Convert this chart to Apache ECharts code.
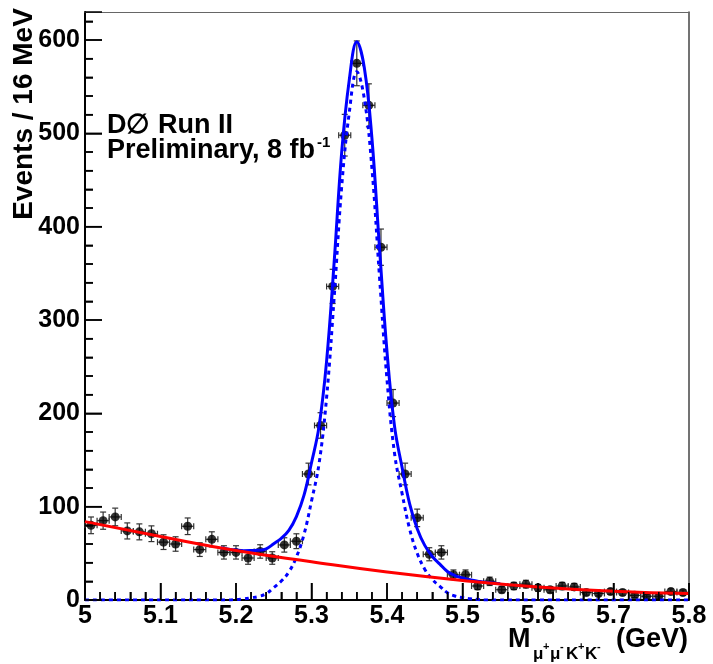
<!DOCTYPE html>
<html>
<head>
<meta charset="utf-8">
<script src="https://cdn.jsdelivr.net/npm/echarts@6/dist/echarts.min.js"></script>
<style>html,body{margin:0;padding:0;background:#fff}#c{width:713px;height:664px}</style>
</head>
<body>
<div id="c"></div>
<script>
// ---- data ----
const binCenters = [5.008,5.024,5.040,5.056,5.072,5.088,5.104,5.120,5.136,5.152,
  5.168,5.184,5.200,5.216,5.232,5.248,5.264,5.280,5.296,5.312,
  5.328,5.344,5.360,5.376,5.392,5.408,5.424,5.440,5.456,5.472,
  5.488,5.504,5.520,5.536,5.552,5.568,5.584,5.600,5.616,5.632,
  5.648,5.664,5.680,5.696,5.712,5.728,5.744,5.760,5.776,5.792];
const counts = [80,85,89,74,73,71,62,60,79,54,
  65,51,51,45,52,45,59,63,135,187,
  336,498,575,530,378,211,135,88,49,51,
  27,27,15,20,11,15,17,13,11,15,
  14,8,7,9,8,5,4,4,9,8];
const binHalfWidth = 0.008;

// background fit (red)
const bkgX = [5.0,5.1,5.2,5.3,5.4,5.5,5.6,5.7,5.8];
const bkgY = [84,68,53,41,30,21,14,9.5,7];

// signal fit (blue dotted)
const sigX = [5.0,5.1,5.18,5.19,5.20,5.21,5.22,5.23,5.24,5.25,5.26,5.27,5.28,5.29,5.30,5.31,5.32,5.33,5.34,5.35,5.36,
  5.37,5.38,5.39,5.40,5.41,5.42,5.43,5.44,5.45,5.46,5.47,5.48,5.49,5.50,5.51,5.52,5.53,5.54,5.6,5.7,5.8];
const sigY = [0,0,0,0,0.5,1.1,2.4,3.8,6.7,13.3,20.3,30,46,70,106,146,217,324,443,522,566,
  537,463,347,236,157,114,76,50,33,22,14.7,7.7,4.3,2.6,1.3,0.6,0,0,0,0,0];

// total fit (blue solid)
const totX = [5.18,5.19,5.20,5.21,5.22,5.23,5.24,5.25,5.26,5.27,5.28,5.29,5.30,5.31,5.32,5.33,5.34,5.35,5.36,
  5.37,5.38,5.39,5.40,5.41,5.42,5.43,5.44,5.45,5.46,5.47,5.48,5.49,5.50,5.51,5.52,5.53,5.54,5.55];
const totY = [56,54.5,53.5,52.9,53,53.2,54.9,60.3,66.1,74.6,89.4,112,147,186,256,362,480,557,598,
  570,495,378,266,186,142,103,76.4,58.5,46.6,38.4,30.5,26.2,23.6,21.6,20.2,18.9,18.2,17.5];

// axis ticks and labels
const xTickLabels = ['5','5.1','5.2','5.3','5.4','5.5','5.6','5.7','5.8'];
const xMajorTicks = [5.0,5.1,5.2,5.3,5.4,5.5,5.6,5.7,5.8];
const xMinorTicks = [5.02,5.04,5.06,5.08,5.12,5.14,5.16,5.18,5.22,5.24,5.26,5.28,5.32,5.34,5.36,5.38,
  5.42,5.44,5.46,5.48,5.52,5.54,5.56,5.58,5.62,5.64,5.66,5.68,5.72,5.74,5.76,5.78];
const yTickLabels = ['0','100','200','300','400','500','600'];
const yMajorTicks = [0,100,200,300,400,500,600];
const yMinorTicks = [20,40,60,80,120,140,160,180,220,240,260,280,320,340,360,380,
  420,440,460,480,520,540,560,580,620];

// ---- chart ----
const zip = (a,b) => a.map((v,i)=>[v,b[i]]);
const pts = binCenters.map((x,i)=>[x,counts[i],Math.sqrt(counts[i])]);
const FONT = 'Liberation Sans, Arial, Helvetica, sans-serif';
const XMIN = 5, YMIN = 0;
// tick items: [value, kind]  kind 0 x-major, 1 x-minor, 2 y-major, 3 y-minor
const tickItems = [].concat(
  xMajorTicks.map(v=>[v,0]), xMinorTicks.map(v=>[v,1]),
  yMajorTicks.map(v=>[v,2]), yMinorTicks.map(v=>[v,3]));

const chart = echarts.init(document.getElementById('c'), null, {renderer:'canvas'});
chart.setOption({
  animation:false,
  backgroundColor:'#ffffff',
  grid:{left:85,right:24,top:12,bottom:64,show:false},
  xAxis:[
    {type:'value',min:5,max:5.8,interval:0.1,
      axisLine:{show:true,onZero:false,lineStyle:{color:'#000',width:2}},
      axisTick:{show:true,inside:true,length:17,lineStyle:{color:'#000',width:1.5}},
      minorTick:{show:true,splitNumber:5,length:8,lineStyle:{color:'#000',width:1.5}},
      splitLine:{show:false},
      axisLabel:{margin:4,color:'#000',fontFamily:FONT,fontWeight:'bold',fontSize:25,
        formatter:(v)=>{const i=Math.round((v-5)/0.1);return xTickLabels[i]!==undefined?xTickLabels[i]:'';}}},
    {type:'value',position:'top',min:5,max:5.8,interval:0.1,
      axisLine:{show:true,onZero:false,lineStyle:{color:'#666',width:1}},
      axisTick:{show:false},axisLabel:{show:false},splitLine:{show:false}}
  ],
  yAxis:[
    {type:'value',min:0,max:630,interval:100,
      axisLine:{show:true,onZero:false,lineStyle:{color:'#000',width:2}},
      axisTick:{show:true,inside:true,length:17,lineStyle:{color:'#000',width:1.5}},
      minorTick:{show:true,splitNumber:5,length:8,lineStyle:{color:'#000',width:1.5}},
      splitLine:{show:false},
      axisLabel:{margin:5,color:'#000',fontFamily:FONT,fontWeight:'bold',fontSize:25,showMaxLabel:false,
        formatter:(v)=>{const i=Math.round(v/100);return (v%100===0 && yTickLabels[i]!==undefined)?yTickLabels[i]:'';}}},
    {type:'value',position:'right',min:0,max:630,interval:100,
      axisLine:{show:true,onZero:false,lineStyle:{color:'#444',width:1.5}},
      axisTick:{show:false},axisLabel:{show:false},splitLine:{show:false}}
  ],
  series:[
    {type:'custom',name:'ticks',data:tickItems,z:9,
      renderItem:(params,api)=>{
        const v=api.value(0), k=api.value(1);
        if(k<2){
          const p=api.coord([v,YMIN]); const len=(k===0)?17:8;
          return {type:'rect',shape:{x:p[0]-0.75,y:p[1]-len,width:1.5,height:len},style:{fill:'#000'}};
        }
        const p=api.coord([XMIN,v]); const len=(k===2)?17:8;
        return {type:'rect',shape:{x:p[0],y:p[1]-0.75,width:len,height:1.5},style:{fill:'#000'}};
      }},
    {type:'custom',name:'err',data:pts,z:3,
      renderItem:(params,api)=>{
        const x=api.value(0), y=api.value(1), e=api.value(2);
        const c=api.coord([x,y]);
        const l=api.coord([x-binHalfWidth,y]), r=api.coord([x+binHalfWidth,y]);
        const t=api.coord([x,y+e]), b=api.coord([x,Math.max(0,y-e)]);
        const st={stroke:'#333',lineWidth:1.2};
        return {type:'group',children:[
          {type:'line',shape:{x1:c[0],y1:t[1],x2:c[0],y2:b[1]},style:st},
          {type:'line',shape:{x1:c[0]-3,y1:t[1],x2:c[0]+3,y2:t[1]},style:st},
          {type:'line',shape:{x1:c[0]-3,y1:b[1],x2:c[0]+3,y2:b[1]},style:st},
          {type:'line',shape:{x1:l[0],y1:c[1],x2:r[0],y2:c[1]},style:st},
          {type:'line',shape:{x1:l[0],y1:c[1]-3,x2:l[0],y2:c[1]+3},style:st},
          {type:'line',shape:{x1:r[0],y1:c[1]-3,x2:r[0],y2:c[1]+3},style:st}
        ]};
      }},
    {type:'scatter',data:zip(binCenters,counts),symbol:'circle',symbolSize:9,itemStyle:{color:'#000'},z:4},
    {type:'line',data:zip(sigX,sigY),showSymbol:false,smooth:0.4,z:5,
      lineStyle:{color:'#0000ff',width:3,type:[4,4]}},
    {type:'line',data:zip(totX,totY),showSymbol:false,smooth:0.4,z:6,
      lineStyle:{color:'#0000ff',width:3}},
    {type:'line',data:zip(bkgX,bkgY),showSymbol:false,smooth:true,z:7,
      lineStyle:{color:'#ff0000',width:3}}
  ],
  graphic:[
    {type:'text',x:24,y:114,rotation:Math.PI/2,
      style:{text:'Events / 16 MeV',font:'bold 28px '+FONT,fill:'#000',textAlign:'center',textVerticalAlign:'middle'}},
    {type:'text',x:107,y:112,style:{text:'D\u2205 Run II',font:'bold 27px '+FONT,fill:'#000',textAlign:'left',textVerticalAlign:'top'}},
    {type:'text',x:107,y:137,style:{text:'Preliminary, 8 fb',font:'bold 27px '+FONT,fill:'#000',textAlign:'left',textVerticalAlign:'top'}},
    {type:'text',x:317,y:135,style:{text:'-1',font:'bold 15px '+FONT,fill:'#000',textAlign:'left',textVerticalAlign:'top'}},
    {type:'text',x:508,y:626,style:{text:'M',font:'bold 27px '+FONT,fill:'#000',textAlign:'left',textVerticalAlign:'top'}},
    {type:'text',x:533,y:646,style:{text:'\u03bc',font:'bold 17px '+FONT,fill:'#000',textAlign:'left',textVerticalAlign:'top'}},
    {type:'text',x:543,y:641,style:{text:'+',font:'bold 11px '+FONT,fill:'#000',textAlign:'left',textVerticalAlign:'top'}},
    {type:'text',x:550,y:646,style:{text:'\u03bc',font:'bold 17px '+FONT,fill:'#000',textAlign:'left',textVerticalAlign:'top'}},
    {type:'text',x:560,y:641,style:{text:'-',font:'bold 11px '+FONT,fill:'#000',textAlign:'left',textVerticalAlign:'top'}},
    {type:'text',x:566,y:646,style:{text:'K',font:'bold 17px '+FONT,fill:'#000',textAlign:'left',textVerticalAlign:'top'}},
    {type:'text',x:578,y:641,style:{text:'+',font:'bold 11px '+FONT,fill:'#000',textAlign:'left',textVerticalAlign:'top'}},
    {type:'text',x:585,y:646,style:{text:'K',font:'bold 17px '+FONT,fill:'#000',textAlign:'left',textVerticalAlign:'top'}},
    {type:'text',x:597,y:641,style:{text:'-',font:'bold 11px '+FONT,fill:'#000',textAlign:'left',textVerticalAlign:'top'}},
    {type:'text',x:616,y:626,style:{text:'(GeV)',font:'bold 27px '+FONT,fill:'#000',textAlign:'left',textVerticalAlign:'top'}}
  ]
});
</script>
</body>
</html>
